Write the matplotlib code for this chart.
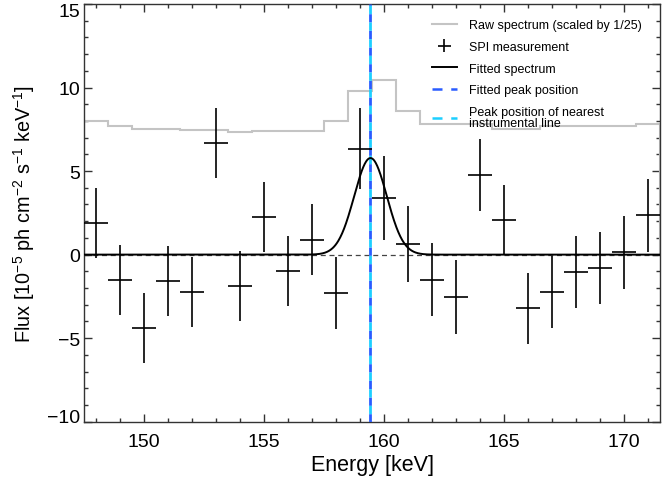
import numpy as np
import matplotlib
matplotlib.use("Agg")
import matplotlib.pyplot as plt
from matplotlib.ticker import MultipleLocator
from matplotlib.lines import Line2D
import matplotlib.transforms as mtransforms

plt.rcParams['font.family'] = ['Liberation Sans', 'DejaVu Sans']
plt.rcParams['mathtext.default'] = 'regular'

# ---- data ----
energy = [148, 149, 150, 151, 152, 153, 154, 155, 156, 157, 158, 159,
          160, 161, 162, 163, 164, 165, 166, 167, 168, 169, 170, 171]
flux = [1.9, -1.5, -4.4, -1.6, -2.25, 6.7, -1.9, 2.25, -1.0, 0.9, -2.3, 6.35,
        3.4, 0.65, -1.5, -2.55, 4.75, 2.05, -3.2, -2.25, -1.05, -0.78, 0.14, 2.35]
flux_err = [2.1, 2.1, 2.1, 2.1, 2.1, 2.1, 2.1, 2.1, 2.1, 2.1, 2.15, 2.4,
            2.5, 2.27, 2.2, 2.2, 2.15, 2.1, 2.12, 2.14, 2.15, 2.15, 2.17, 2.2]
bin_halfwidth = 0.5

raw_edges = [147.5, 148.5, 149.5, 150.5, 151.5, 152.5, 153.5, 154.5, 155.5, 156.5,
             157.5, 158.5, 159.5, 160.5, 161.5, 162.5, 163.5, 164.5, 165.5, 166.5,
             167.5, 168.5, 169.5, 170.5, 171.5]
raw_scaled = [7.99, 7.67, 7.49, 7.49, 7.43, 7.43, 7.33, 7.37, 7.37, 7.41, 7.97, 9.78,
              10.46, 8.59, 7.83, 7.83, 7.83, 7.53, 7.53, 7.67, 7.67, 7.67, 7.67, 7.79]

fit_amplitude = 5.78
fit_center = 159.43
fit_sigma = 0.68
instrumental_line = 159.43

peak_color = '#2a5cff'
inst_color = '#1ccfff'

# ---- figure ----
fig = plt.figure(figsize=(6.64, 4.81), dpi=100)
ax = fig.add_axes([0.127, 0.1212, 0.867, 0.8684])

ax.axhline(0, color='#444444', lw=0.9, ls=(0, (4, 3)), zorder=1)

h_raw = ax.stairs(raw_scaled, raw_edges, color='#c4c4c4', lw=1.5, zorder=2)

h_spi = ax.errorbar(energy, flux, yerr=flux_err, xerr=bin_halfwidth, fmt='none',
                    ecolor='black', elinewidth=1.2, capsize=0, zorder=4)

xs = np.linspace(147.5, 171.5, 1200)
model = fit_amplitude * np.exp(-0.5 * ((xs - fit_center) / fit_sigma) ** 2)
h_fit, = ax.plot(xs, model, color='black', lw=1.4, zorder=5)

ax.axvline(fit_center, color=peak_color, lw=2.0, ls=(0, (3, 3)), zorder=3)
ax.axvline(instrumental_line, color=inst_color, lw=2.0, ls=(3, (3, 3)), zorder=3)

h_peak = Line2D([], [], color=peak_color, lw=1.8, ls=(0, (4, 3.5)))
h_inst = Line2D([], [], color=inst_color, lw=1.8, ls=(0, (4, 3.5)))

ax.set_xlim(147.5, 171.5)
ax.set_ylim(-10, 15)
ax.xaxis.set_major_locator(MultipleLocator(5))
ax.xaxis.set_minor_locator(MultipleLocator(1))
ax.yaxis.set_major_locator(MultipleLocator(5))
ax.yaxis.set_minor_locator(MultipleLocator(1))
ax.tick_params(which='both', direction='in', top=True, right=True,
               color='#333333', width=1.0)
ax.tick_params(which='major', length=5.5, labelsize=14)
ax.tick_params(axis='x', which='major', pad=8)
ax.tick_params(axis='y', which='major', pad=3)
ax.tick_params(which='minor', length=3)
for s in ax.spines.values():
    s.set_color('#333333')
    s.set_linewidth(1.0)

# keep the end labels inside the figure, as in the reference
fig.canvas.draw()
for lab in ax.get_yticklabels():
    txt = lab.get_text().replace('\u2212', '-')
    if txt == '15':
        lab.set_transform(lab.get_transform() + mtransforms.ScaledTranslation(0, -5 / 100, fig.dpi_scale_trans))
    elif txt == '-10':
        lab.set_transform(lab.get_transform() + mtransforms.ScaledTranslation(0, 6 / 100, fig.dpi_scale_trans))

ax.set_xlabel('Energy [keV]', fontsize=15.5, labelpad=3)
ax.set_ylabel(r'Flux [10$^{-5}$ ph cm$^{-2}$ s$^{-1}$ keV$^{-1}$]', fontsize=14.3, labelpad=7)

leg = ax.legend([h_raw, h_spi, h_fit, h_peak, h_inst],
                ['Raw spectrum (scaled by 1/25)', 'SPI measurement', 'Fitted spectrum',
                 'Fitted peak position', 'Peak position of nearest\ninstrumental line'],
                loc='upper left', bbox_to_anchor=(0.650, 0.958),
                bbox_transform=fig.transFigure, frameon=False, fontsize=9,
                handlelength=2.05, handletextpad=0.95, labelspacing=0.78,
                borderpad=0, borderaxespad=0)
for t in leg.get_texts():
    t.set_linespacing(0.85)

fig.savefig('out.png', dpi=100)
